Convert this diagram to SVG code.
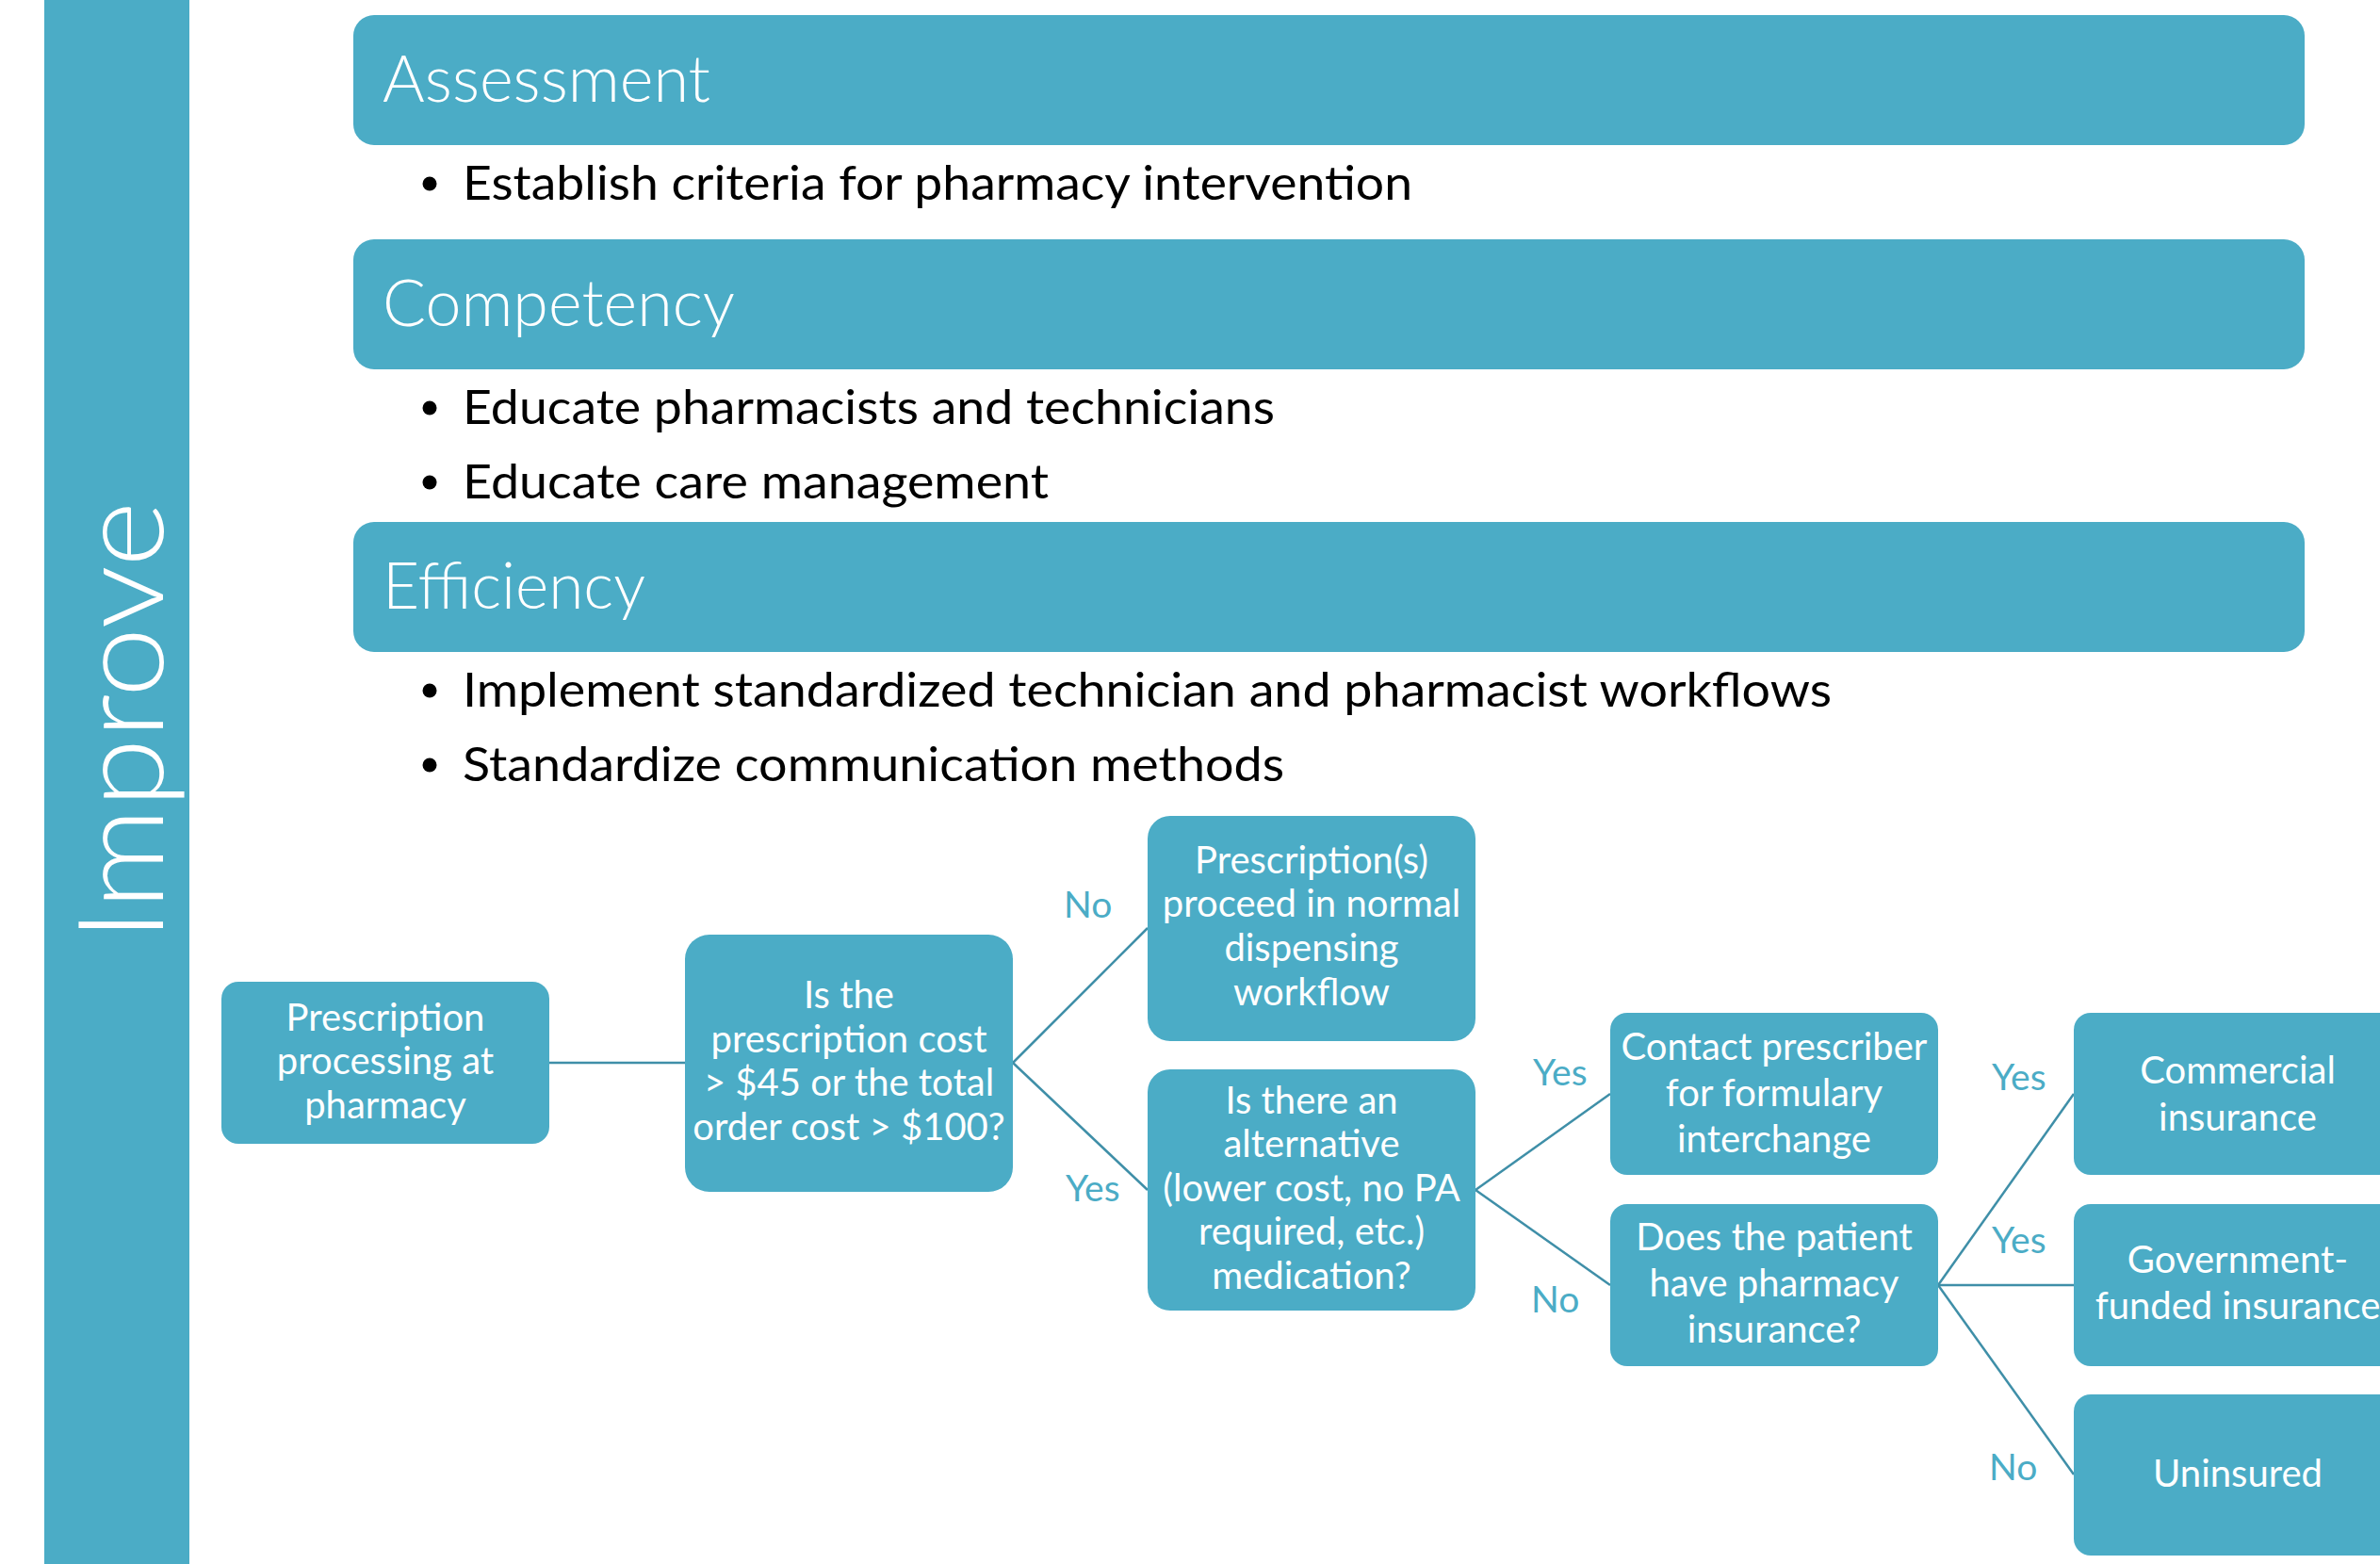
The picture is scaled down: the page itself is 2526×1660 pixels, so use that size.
<svg xmlns="http://www.w3.org/2000/svg" width="2526" height="1660" viewBox="0 0 2526 1660">
  <style>
    .fill { fill: #4bacc6; }
    .hdr { font-family: Lato, "Open Sans", sans-serif; font-weight: 300; font-size: 68px; fill: #ffffff; }
    .bul { font-family: Lato, "Open Sans", sans-serif; font-size: 50px; fill: #000000; }
    .node { font-family: Lato, "Open Sans", sans-serif; font-size: 40px; fill: #ffffff; text-anchor: middle; }
    .lbl { font-family: Lato, "Open Sans", sans-serif; font-size: 39px; fill: #4bacc6; }
    .conn { stroke: #3f8fa8; stroke-width: 2.5; fill: none; }
    .big { font-family: Lato, "Open Sans", sans-serif; font-weight: 300; font-size: 126px; fill: #ffffff; }
  </style>
  <rect width="2526" height="1660" fill="#ffffff"/>

  <!-- vertical title band -->
  <g id="band">
    <rect class="fill" x="47" y="0" width="154" height="1660"/>
    <text class="big" transform="translate(173,999) rotate(-90)" textLength="467" lengthAdjust="spacingAndGlyphs">Improve</text>
  </g>

  <!-- section headers with bullet lists -->
  <g id="assessment">
    <rect class="fill" x="375" y="16" width="2071" height="138" rx="22"/>
    <text class="hdr" x="406" y="108" textLength="348" lengthAdjust="spacingAndGlyphs">Assessment</text>
    <circle cx="456" cy="195" r="7.5"/>
    <text class="bul" x="491" y="212" textLength="1008" lengthAdjust="spacingAndGlyphs">Establish criteria for pharmacy intervention</text>
  </g>
  <g id="competency">
    <rect class="fill" x="375" y="254" width="2071" height="138" rx="22"/>
    <text class="hdr" x="406" y="346" textLength="374" lengthAdjust="spacingAndGlyphs">Competency</text>
    <circle cx="456" cy="433" r="7.5"/>
    <text class="bul" x="491" y="450" textLength="862" lengthAdjust="spacingAndGlyphs">Educate pharmacists and technicians</text>
    <circle cx="456" cy="512" r="7.5"/>
    <text class="bul" x="491" y="529" textLength="622" lengthAdjust="spacingAndGlyphs">Educate care management</text>
  </g>
  <g id="efficiency">
    <rect class="fill" x="375" y="554" width="2071" height="138" rx="22"/>
    <text class="hdr" x="406" y="646" textLength="279" lengthAdjust="spacingAndGlyphs">Efficiency</text>
    <circle cx="456" cy="733" r="7.5"/>
    <text class="bul" x="491" y="750" textLength="1453" lengthAdjust="spacingAndGlyphs">Implement standardized technician and pharmacist workflows</text>
    <circle cx="456" cy="812" r="7.5"/>
    <text class="bul" x="491" y="829" textLength="872" lengthAdjust="spacingAndGlyphs">Standardize communication methods</text>
  </g>

  <!-- decision tree connectors and branch labels -->
  <g id="connectors">
    <line class="conn" x1="583" y1="1128" x2="727" y2="1128"/>
    <line class="conn" x1="1075" y1="1128" x2="1218" y2="985"/>
    <line class="conn" x1="1075" y1="1128" x2="1218" y2="1263"/>
    <line class="conn" x1="1566" y1="1263" x2="1709" y2="1161"/>
    <line class="conn" x1="1566" y1="1263" x2="1709" y2="1364"/>
    <line class="conn" x1="2057" y1="1364" x2="2201" y2="1161"/>
    <line class="conn" x1="2057" y1="1364" x2="2201" y2="1364"/>
    <line class="conn" x1="2057" y1="1364" x2="2201" y2="1565"/>
    <text class="lbl" x="1129" y="974">No</text>
    <text class="lbl" x="1131" y="1275">Yes</text>
    <text class="lbl" x="1627" y="1152">Yes</text>
    <text class="lbl" x="1625" y="1393">No</text>
    <text class="lbl" x="2114" y="1157">Yes</text>
    <text class="lbl" x="2114" y="1330">Yes</text>
    <text class="lbl" x="2111" y="1571">No</text>
  </g>

  <g id="n-processing">
    <rect class="fill" x="235" y="1042" width="348" height="172" rx="18"/>
    <text class="node" x="409" y="1094">Prescription</text>
    <text class="node" x="409" y="1140">processing at</text>
    <text class="node" x="409" y="1187">pharmacy</text>
  </g>
  <g id="n-cost">
    <rect class="fill" x="727" y="992" width="348" height="273" rx="26"/>
    <text class="node" x="901" y="1070">Is the</text>
    <text class="node" x="901" y="1117">prescription cost</text>
    <text class="node" x="901" y="1163">&gt; $45 or the total</text>
    <text class="node" x="901" y="1210">order cost &gt; $100?</text>
  </g>
  <g id="n-normal">
    <rect class="fill" x="1218" y="866" width="348" height="239" rx="24"/>
    <text class="node" x="1392" y="927">Prescription(s)</text>
    <text class="node" x="1392" y="973">proceed in normal</text>
    <text class="node" x="1392" y="1020">dispensing</text>
    <text class="node" x="1392" y="1067">workflow</text>
  </g>
  <g id="n-alternative">
    <rect class="fill" x="1218" y="1135" width="348" height="256" rx="24"/>
    <text class="node" x="1392" y="1182">Is there an</text>
    <text class="node" x="1392" y="1228">alternative</text>
    <text class="node" x="1392" y="1275">(lower cost, no PA</text>
    <text class="node" x="1392" y="1321">required, etc.)</text>
    <text class="node" x="1392" y="1368">medication?</text>
  </g>
  <g id="n-contact">
    <rect class="fill" x="1709" y="1075" width="348" height="172" rx="18"/>
    <text class="node" x="1883" y="1125">Contact prescriber</text>
    <text class="node" x="1883" y="1174">for formulary</text>
    <text class="node" x="1883" y="1223">interchange</text>
  </g>
  <g id="n-insurance">
    <rect class="fill" x="1709" y="1278" width="348" height="172" rx="18"/>
    <text class="node" x="1883" y="1327">Does the patient</text>
    <text class="node" x="1883" y="1376">have pharmacy</text>
    <text class="node" x="1883" y="1425">insurance?</text>
  </g>
  <g id="n-commercial">
    <rect class="fill" x="2201" y="1075" width="348" height="172" rx="18"/>
    <text class="node" x="2375" y="1150">Commercial</text>
    <text class="node" x="2375" y="1200">insurance</text>
  </g>
  <g id="n-government">
    <rect class="fill" x="2201" y="1278" width="348" height="172" rx="18"/>
    <text class="node" x="2375" y="1351">Government-</text>
    <text class="node" x="2375" y="1400">funded insurance</text>
  </g>
  <g id="n-uninsured">
    <rect class="fill" x="2201" y="1480" width="348" height="171" rx="18"/>
    <text class="node" x="2375" y="1578">Uninsured</text>
  </g>
</svg>
